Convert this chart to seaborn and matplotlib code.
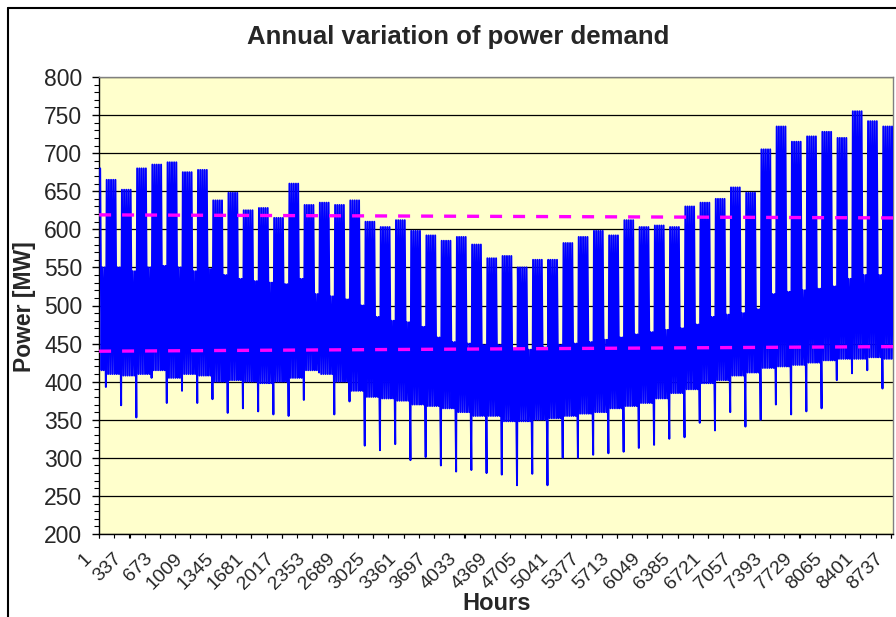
"""Annual variation of hourly power demand (Excel-style chart)."""

import matplotlib

matplotlib.use("Agg")

import matplotlib.pyplot as plt
import matplotlib.transforms as mtransforms
import pandas as pd
import seaborn as sns
from matplotlib.lines import Line2D
from matplotlib.ticker import MultipleLocator

# values, one entry per week
# week 0 = first partial week (Fri-Sun), week 52 = last partial week (Mon-Fri)
WEEKDAY_PEAK = [680, 665, 652, 680, 685, 688, 675, 678, 638, 648,
                625, 628, 615, 660, 632, 635, 632, 638, 610, 603,
                612, 598, 592, 585, 590, 580, 562, 565, 550, 560,
                560, 582, 590, 598, 592, 612, 603, 605, 603, 630,
                635, 640, 655, 648, 705, 735, 715, 722, 728, 720,
                755, 742, 735]
WEEKDAY_LOW = [415, 410, 408, 410, 415, 405, 410, 408, 400, 402,
               400, 398, 400, 405, 415, 410, 400, 388, 380, 378,
               375, 370, 368, 365, 360, 355, 355, 348, 348, 350,
               352, 355, 358, 360, 365, 368, 372, 378, 385, 390,
               398, 402, 408, 412, 418, 420, 422, 425, 428, 430,
               430, 432, 430]
WEEKEND_PEAK = [550, 550, 545, 550, 552, 550, 545, 548, 540, 535,
                532, 530, 528, 535, 515, 512, 508, 500, 485, 480,
                478, 472, 458, 452, 450, 448, 448, 442, 442, 445,
                448, 450, 452, 455, 458, 462, 465, 468, 470, 475,
                485, 488, 490, 495, 515, 518, 520, 522, 525, 535,
                540, 540, 535]
WEEKEND_LOW = [393, 369, 353, 405, 372, 388, 372, 377, 359, 365,
               361, 357, 355, 376, 412, 357, 374, 316, 310, 318,
               297, 301, 290, 282, 284, 280, 278, 264, 279, 264,
               300, 300, 304, 306, 308, 313, 317, 325, 327, 346,
               336, 360, 341, 350, 370, 357, 361, 365, 402, 411,
               415, 391, 410]

TREND_HOURS = [1, 8760]
UPPER_TREND = [619, 615]
LOWER_TREND = [440, 446]

TICK_LABELS = ["1", "337", "673", "1009", "1345", "1681", "2017", "2353",
               "2689", "3025", "3361", "3697", "4033", "4369", "4705",
               "5041", "5377", "5713", "6049", "6385", "6721", "7057",
               "7393", "7729", "8065", "8401", "8737"]


def build_series() -> pd.DataFrame:
    # daytime peak and the following night's low for every day of the year
    hours, power = [], []
    for day in range(365):
        week, dow = divmod(day + 4, 7)  # day 0 is a Friday
        if dow < 5:
            peak, low = WEEKDAY_PEAK[week], WEEKDAY_LOW[week]
        elif dow == 5:
            peak, low = WEEKEND_PEAK[week], WEEKDAY_LOW[week]
        else:
            peak, low = WEEKEND_PEAK[week], WEEKEND_LOW[week]
        hours += [day * 24 + 13, day * 24 + 28]
        power += [peak, low]
    return pd.DataFrame({"hour": hours, "power": power})


df = build_series()

sns.set_theme(style="white")
plt.rcParams["font.family"] = ["Liberation Sans", "DejaVu Sans"]

W, H = 896, 617
fig = plt.figure(figsize=(W / 100, H / 100), dpi=100)
ax = fig.add_axes([99 / W, (H - 534) / H, 794 / W, 457 / H])
ax.set_facecolor("#FFFFCC")

sns.lineplot(data=df, x="hour", y="power", ax=ax, color="#0000FF",
             linewidth=1.4, estimator=None, zorder=3)
ax.plot(TREND_HOURS, UPPER_TREND, color="#FF00FF", lw=2.4,
        linestyle=(0, (3.6, 3.3)), zorder=4)
ax.plot(TREND_HOURS, LOWER_TREND, color="#FF00FF", lw=2.4,
        linestyle=(0, (3.6, 3.3)), zorder=4)

ax.set_xlim(0, 8760)
ax.set_ylim(200, 800)
ax.yaxis.set_major_locator(MultipleLocator(50))
ax.yaxis.set_minor_locator(MultipleLocator(10))
ax.set_xticks([int(t) for t in TICK_LABELS])
ax.set_xticklabels(TICK_LABELS)
ax.xaxis.set_minor_locator(MultipleLocator(168))

ax.set_axisbelow(True)
ax.yaxis.grid(True, color="#000000", lw=0.9)
ax.xaxis.grid(False)

for side in ("left", "bottom"):
    ax.spines[side].set_color("black")
    ax.spines[side].set_linewidth(1.0)
for side in ("top", "right"):
    ax.spines[side].set_color("#808080")
    ax.spines[side].set_linewidth(1.0)

ax.tick_params(axis="y", which="major", direction="out", length=5, width=1,
               color="black", labelsize=16.5, pad=7, left=True)
ax.tick_params(axis="y", which="minor", direction="out", length=3.4,
               width=0.8, color="black", left=True)
ax.tick_params(axis="x", which="both", direction="out", length=3, width=0.8,
               color="black", bottom=True)
ax.tick_params(axis="x", which="major", labelsize=14, pad=13)
offset = mtransforms.ScaledTranslation(-0.10, 0, fig.dpi_scale_trans)
for lab in ax.get_xticklabels():
    lab.set_rotation(45)
    lab.set_rotation_mode("anchor")
    lab.set_ha("right")
    lab.set_va("center")
    lab.set_transform(lab.get_transform() + offset)

ax.set_xlabel("")
ax.set_ylabel("")

fig.text(458 / W, 1 - 37 / H, "Annual variation of power demand",
         ha="center", va="center", fontsize=18.5, fontweight="bold")
fig.text(25 / W, 1 - 307 / H, "Power [MW]", rotation=90,
         ha="center", va="center", fontsize=16.5, fontweight="bold")
fig.text(497 / W, 1 - 603 / H, "Hours", ha="center", va="center",
         fontsize=17, fontweight="bold")

# chart-area border (right and bottom edges fall outside the picture)
fig.add_artist(Line2D([8 / W, 1], [1 - 7.5 / H] * 2, transform=fig.transFigure,
                      color="black", lw=1.5))
fig.add_artist(Line2D([8 / W] * 2, [0, 1 - 7.5 / H], transform=fig.transFigure,
                      color="black", lw=1.5))

fig.savefig("out.png", dpi=100)
